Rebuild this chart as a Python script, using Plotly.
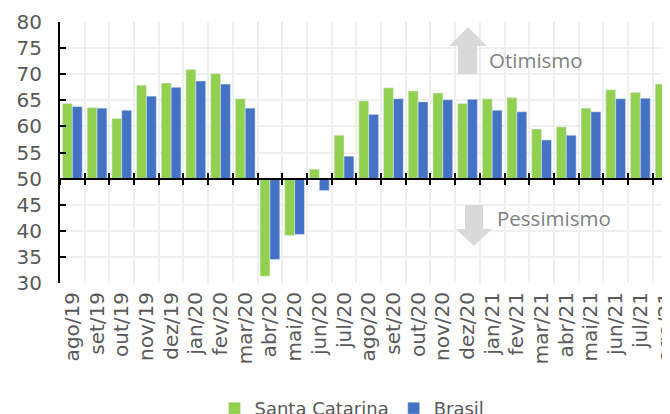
import plotly.graph_objects as go

# Dados
meses = ['ago/19', 'set/19', 'out/19', 'nov/19', 'dez/19', 'jan/20', 'fev/20', 'mar/20',
         'abr/20', 'mai/20', 'jun/20', 'jul/20', 'ago/20', 'set/20', 'out/20', 'nov/20',
         'dez/20', 'jan/21', 'fev/21', 'mar/21', 'abr/21', 'mai/21', 'jun/21', 'jul/21', 'ago/21']
santa_catarina = [64.4, 63.6, 61.5, 67.9, 68.3, 70.9, 70.1, 65.3, 31.3, 39.1, 51.8, 58.3,
                  64.9, 67.4, 66.8, 66.4, 64.4, 65.3, 65.5, 59.5, 59.9, 63.5, 67.0, 66.5, 68.1]
brasil = [63.8, 63.5, 63.1, 65.8, 67.5, 68.7, 68.1, 63.5, 34.5, 39.3, 47.7, 54.3,
          62.3, 65.3, 64.7, 65.1, 65.2, 63.1, 62.8, 57.4, 58.3, 62.8, 65.3, 65.4, 66.2]
linha_base = 50

fig = go.Figure()
fig.add_trace(go.Bar(x=meses, y=[v - linha_base for v in santa_catarina], base=linha_base,
                     name='Santa Catarina', marker_color='#92D050',
                     customdata=santa_catarina, hovertemplate='%{x}: %{customdata}'))
fig.add_trace(go.Bar(x=meses, y=[v - linha_base for v in brasil], base=linha_base,
                     name='Brasil', marker_color='#4472C4',
                     customdata=brasil, hovertemplate='%{x}: %{customdata}'))

# tracos invisiveis so para desenhar o eixo horizontal em 50 (com marcas cruzadas)
for eixo in ['x2', 'x3']:
    fig.add_trace(go.Scatter(x=list(range(len(meses))), y=santa_catarina, xaxis=eixo,
                             mode='markers', marker=dict(opacity=0), showlegend=False,
                             hoverinfo='skip'))

# a pagina tem margem de 8px no body, entao a figura fica 8px menor
OFF = 8
W, H = 670 - OFF, 414 - OFF
L, R, T, B = 60 - OFF, 0, 22 - OFF, 131


def px(x, y):
    # pixel da pagina -> coordenadas paper
    x, y = x - OFF, y - OFF
    return (x - L) / (W - L - R), (H - B - y) / (H - T - B)


def seta(pontos):
    d = 'M ' + ' L '.join('%.4f,%.4f' % px(*p) for p in pontos) + ' Z'
    return dict(type='path', xref='paper', yref='paper', path=d,
                fillcolor='#D9D9D9', line=dict(width=0), layer='above')


cima = [(468, 27), (487, 46), (477, 46), (477, 74), (458, 74), (458, 46), (449, 46)]
baixo = [(474, 246), (492, 229), (483, 229), (483, 205), (465, 205), (465, 229), (456, 229)]

x_ot, y_ot = px(487, 60)
x_pe, y_pe = px(495, 218)
x_leg, y_leg = px(352, 390)

eixo_x = dict(overlaying='x', anchor='free', position=(linha_base - 30) / (80 - 30),
              range=[-0.5, 24.2], tick0=-0.5, dtick=1, ticklen=5, tickwidth=2,
              tickcolor='black', showline=True, linecolor='black', linewidth=2,
              showticklabels=False, showgrid=False, zeroline=False)

fig.update_layout(
    width=W, height=H,
    margin=dict(l=L, r=R, t=T, b=B, autoexpand=False),
    plot_bgcolor='white', paper_bgcolor='white',
    bargap=0.2, bargroupgap=0,
    font=dict(family='DejaVu Sans', color='#595959'),
    showlegend=True,
    legend=dict(orientation='h', x=x_leg, xanchor='center', y=y_leg, yanchor='top',
                font=dict(size=18, color='#595959')),
    xaxis=dict(type='category', range=[-0.5, 24.2], tickson='boundaries', ticks='',
               showgrid=True, gridcolor='#EFEFEF', gridwidth=1.5, tickangle=-90,
               tickfont=dict(size=20, color='#595959'), showline=False,
               ticklabelstandoff=4, automargin=False),
    xaxis2=dict(eixo_x, ticks='outside'),
    xaxis3=dict(eixo_x, ticks='inside'),
    yaxis=dict(range=[30, 80], dtick=5, showline=True, linecolor='black', linewidth=2,
               ticks='inside', ticklen=6, tickwidth=2, tickcolor='black',
               showgrid=True, gridcolor='#EFEFEF', gridwidth=1.5, zeroline=False,
               tickfont=dict(size=20, color='#595959'), ticklabelstandoff=12,
               automargin=False),
    shapes=[seta(cima), seta(baixo)],
    annotations=[
        dict(text='Otimismo', xref='paper', yref='paper', x=x_ot, y=y_ot,
             xanchor='left', yanchor='middle', showarrow=False,
             font=dict(family='Open Sans', size=20.5, color='#7F7F7F')),
        dict(text='Pessimismo', xref='paper', yref='paper', x=x_pe, y=y_pe,
             xanchor='left', yanchor='middle', showarrow=False,
             font=dict(family='Open Sans', size=20.5, color='#7F7F7F')),
    ],
)

fig.write_html('out.html')
